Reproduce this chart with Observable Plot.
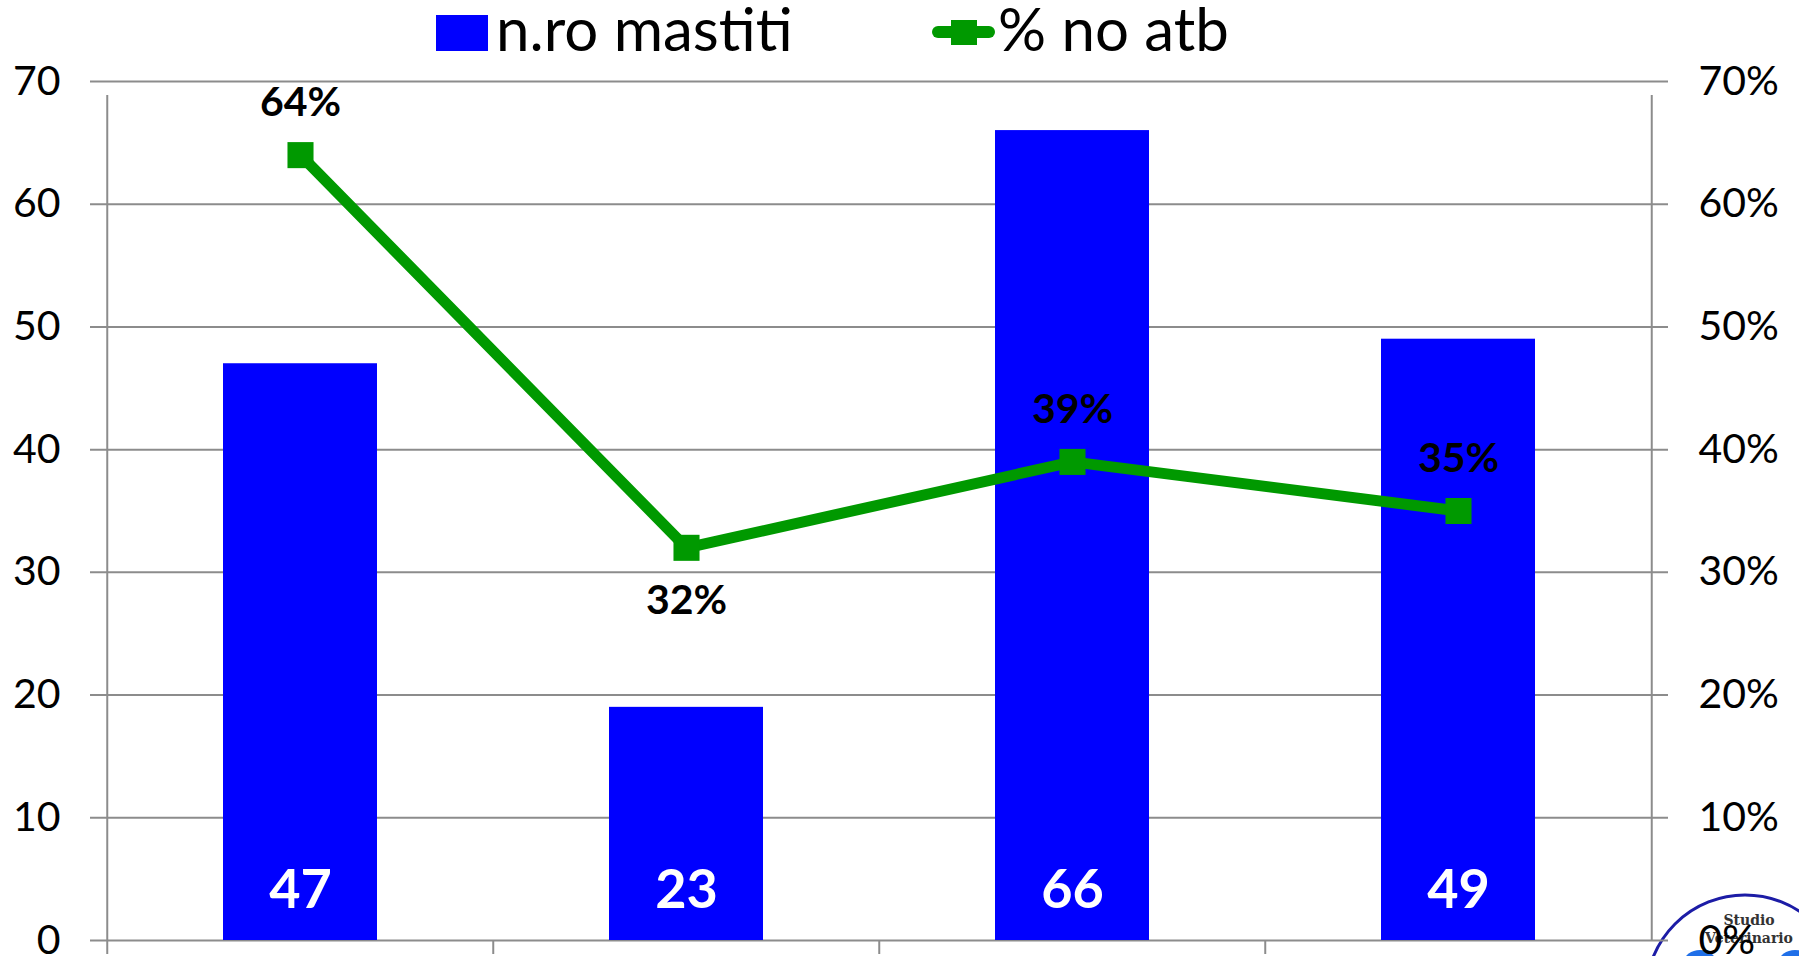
<!DOCTYPE html>
<html>
<head>
<meta charset="utf-8">
<script src="https://cdn.jsdelivr.net/npm/d3@7"></script>
<script src="https://cdn.jsdelivr.net/npm/@observablehq/plot@0.6"></script>
<style>
  html, body { margin: 0; padding: 0; background: #fff; }
  #wrap { position: relative; width: 1799px; height: 956px; overflow: hidden; }
  #legend { display: block; }
  #logo { position: absolute; left: 0; top: 0; z-index: 0; }
  #chart { position: relative; z-index: 1; }
</style>
</head>
<body>
<div id="wrap">
  <svg id="logo" width="1799" height="956">
    <circle cx="1745" cy="994" r="99" fill="#fff" stroke="#1c1ca6" stroke-width="3"/>
    <ellipse cx="1700" cy="962" rx="16" ry="12" fill="#1f6fe8"/>
    <ellipse cx="1795" cy="962" rx="16" ry="12" fill="#1f6fe8"/>
    <text x="1749" y="925" text-anchor="middle" font-family="DejaVu Serif" font-weight="bold" font-size="14" fill="#333">Studio</text>
    <text x="1749" y="943" text-anchor="middle" font-family="DejaVu Serif" font-weight="bold" font-size="14" fill="#333">Veterinario</text>
  </svg>
  <svg id="legend" width="1799" height="56"></svg>
  <div id="chart"></div>
</div>
<script>
// ---- data ----
const categories = ["A", "B", "C", "D"];
const mastiti = [47, 19, 66, 49];          // bar heights (n.ro mastiti)
const barLabels = ["47", "23", "66", "49"]; // labels printed in bars
const noAtb = [0.64, 0.32, 0.39, 0.35];     // % no atb
const pctLabels = ["64%", "32%", "39%", "35%"];
const labelSide = ["above", "below", "above", "above"];
const yTicks = [0, 10, 20, 30, 40, 50, 60, 70];
const seriesNames = ["n.ro mastiti", "% no atb"];

// ---- legend ----
const BLUE = "#0000ff", GREEN = "#009900", GRID = "#8c8c8c";
const lg = d3.select("#legend");
lg.append("rect").attr("x", 436).attr("y", 15).attr("width", 52).attr("height", 36).attr("fill", BLUE);
lg.append("text").attr("x", 496).attr("y", 50.7).attr("font-family", "Lato").attr("font-size", 60)
  .attr("fill", "#000").text(seriesNames[0]);
lg.append("line").attr("x1", 938).attr("x2", 989).attr("y1", 32).attr("y2", 32)
  .attr("stroke", GREEN).attr("stroke-width", 12).attr("stroke-linecap", "round");
lg.append("rect").attr("x", 951).attr("y", 20).attr("width", 26).attr("height", 25).attr("fill", GREEN);
lg.append("text").attr("x", 998).attr("y", 50.7).attr("font-family", "Lato").attr("font-size", 60)
  .attr("fill", "#000").text(seriesNames[1]);

// ---- chart ----
const data = categories.map((c, i) => ({
  cat: c, n: mastiti[i], nLabel: barLabels[i], pct: noAtb[i], pLabel: pctLabels[i], side: labelSide[i]
}));

const W = 1799, H = 900, mL = 106, mR = 147, mT = 25, mB = 16;
const bw = (W - mL - mR) / categories.length;

const chart = Plot.plot({
  width: W,
  height: H,
  marginLeft: mL,
  marginRight: mR,
  marginTop: mT,
  marginBottom: mB,
  style: { fontFamily: "Lato", background: "transparent", color: "#000" },
  x: { domain: categories, padding: 0, axis: null },
  y: { domain: [0, 70], axis: null },
  marks: [
    Plot.ruleY(yTicks, { y: d => d, stroke: GRID, strokeWidth: 2, insetLeft: -16, insetRight: -16 }),
    Plot.barY(data, { x: "cat", y: "n", fill: BLUE, insetLeft: 116, insetRight: 116 }),
    // category boundary ticks below the axis
    Plot.ruleX(data, { x: "cat", dx: -bw / 2, y1: 0, y2: 0, insetBottom: -14, stroke: GRID, strokeWidth: 2 }),
    // left and right axis lines
    Plot.ruleX([categories[0]], { x: d => d, dx: -bw / 2, y1: 0, y2: 70, insetBottom: -14, stroke: GRID, strokeWidth: 2 }),
    Plot.ruleX([categories[categories.length - 1]], { x: d => d, dx: bw / 2, y1: 0, y2: 70, insetBottom: -14, stroke: GRID, strokeWidth: 2 }),
    Plot.axisY(yTicks, { anchor: "left", label: null, tickSize: 0, tickPadding: 46, fontSize: 41, fill: "#000" }),
    Plot.axisY(yTicks, { anchor: "right", label: null, tickSize: 0, tickPadding: 46, fontSize: 41, fill: "#000", tickFormat: d => d + "%" }),
    Plot.line(data, { x: "cat", y: d => d.pct * 100, stroke: GREEN, strokeWidth: 11, strokeLinejoin: "round" }),
    Plot.dot(data, { x: "cat", y: d => d.pct * 100, symbol: "square", r: 14.7, fill: GREEN, stroke: "none" }),
    Plot.text(data.filter(d => d.side === "above"), { x: "cat", y: d => d.pct * 100, text: "pLabel", dy: -52, fontSize: 41, fontWeight: "bold", fill: "#000" }),
    Plot.text(data.filter(d => d.side === "below"), { x: "cat", y: d => d.pct * 100, text: "pLabel", dy: 53, fontSize: 41, fontWeight: "bold", fill: "#000" }),
    Plot.text(data, { x: "cat", y: () => 0, text: "nLabel", dy: -50, fontSize: 54, fontWeight: "bold", fill: "#fff" })
  ]
});
document.getElementById("chart").appendChild(chart);
</script>
</body>
</html>
